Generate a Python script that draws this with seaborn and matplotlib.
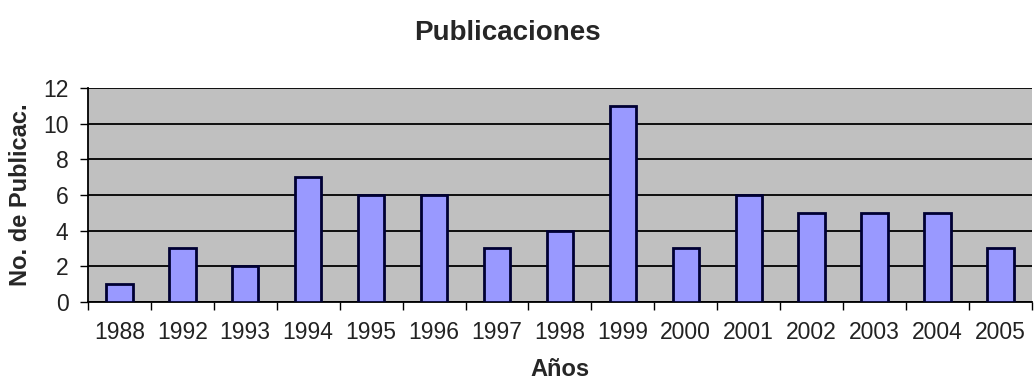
import matplotlib.pyplot as plt
import seaborn as sns
import pandas as pd
from matplotlib.ticker import FixedLocator

years = ['1988', '1992', '1993', '1994', '1995', '1996', '1997', '1998',
         '1999', '2000', '2001', '2002', '2003', '2004', '2005']
counts = [1, 3, 2, 7, 6, 6, 3, 4, 11, 3, 6, 5, 5, 5, 3]

data = pd.DataFrame({'year': years, 'count': counts})

sns.set_theme(style="white")
plt.rcParams['font.family'] = ['Liberation Sans', 'DejaVu Sans']

fig = plt.figure(figsize=(10.34, 3.86), dpi=100)
ax = fig.add_axes([0.085, 0.218, 0.913, 0.554])
ax.set_facecolor('#C0C0C0')

sns.barplot(data=data, x='year', y='count', color='#9999FF', saturation=1,
            width=0.42, edgecolor='#000033', linewidth=2, ax=ax, zorder=3)

ax.set_ylim(0, 12)
ax.set_yticks(range(0, 13, 2))
ax.set_xlim(-0.5, len(years) - 0.5)
ax.grid(axis='y', color='black', linewidth=1.3, zorder=1)
ax.set_axisbelow(True)

# category boundary ticks like the Excel chart
ax.xaxis.set_minor_locator(FixedLocator([i + 0.5 for i in range(-1, len(years))]))
ax.tick_params(axis='x', which='major', length=0, labelsize=16.5, pad=14, colors='#222222')
ax.tick_params(axis='x', which='minor', length=6, width=1, color='black', direction='out', bottom=True)
ax.tick_params(axis='y', length=6, width=1, color='black', direction='out', left=True,
               labelsize=16.5, pad=8, labelcolor='#222222')

for s in ['top', 'right']:
    ax.spines[s].set_visible(False)
for s in ['left', 'bottom']:
    ax.spines[s].set_color('black')
    ax.spines[s].set_linewidth(1.3)

ax.set_xlabel('Años', fontsize=17, fontweight='bold', labelpad=10)
ax.set_ylabel('No. de Publicac.', fontsize=17, fontweight='bold', labelpad=8)
fig.text(0.491, 0.915, 'Publicaciones', fontsize=20, fontweight='bold', ha='center', va='center')

fig.savefig('out.png', dpi=100)
